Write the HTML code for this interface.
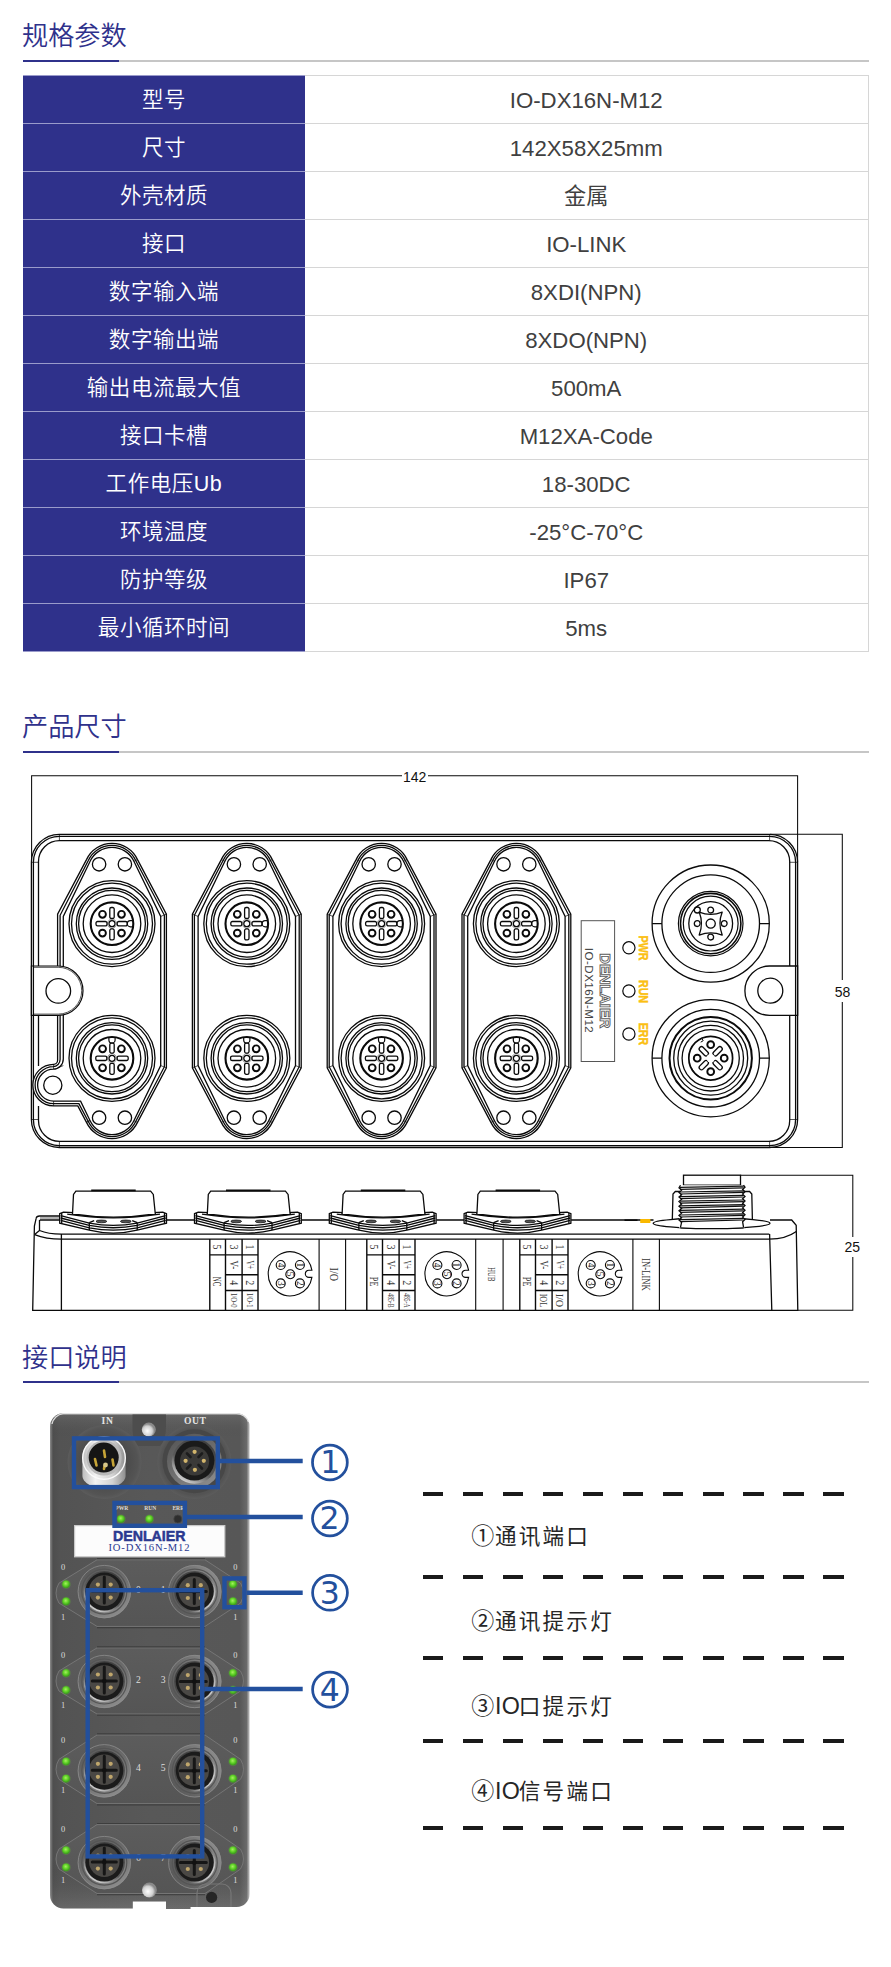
<!DOCTYPE html>
<html lang="zh-CN">
<head>
<meta charset="utf-8">
<title>IO-DX16N-M12</title>
<style>
html,body{margin:0;padding:0;background:#fff;}
body{width:891px;height:1967px;position:relative;overflow:hidden;font-family:"Liberation Sans","Noto Sans CJK SC",sans-serif;color:#333;}
.title{position:absolute;left:22px;margin:0;font-weight:350;font-size:26.2px;line-height:36px;color:#2f318b;white-space:nowrap;letter-spacing:0;}
.rule{position:absolute;left:23px;width:846px;height:2px;background:#c6c6c6;}
.rule i{position:absolute;left:0;top:0;width:96px;height:2px;background:#2f318b;display:block;}
table.spec{position:absolute;left:23px;top:75px;width:846px;border-collapse:collapse;table-layout:fixed;}
table.spec td{height:47px;padding:0;text-align:center;vertical-align:middle;font-size:21px;line-height:47px;border-top:1px solid #d6d6d6;border-bottom:1px solid #d6d6d6;}
table.spec td.k{width:281px;background:#2f318b;color:#fff;font-weight:350;border-color:#9a9bcb;font-size:21.5px;letter-spacing:.55px;padding:2px 0 0 .5px;height:45px;line-height:45px;}
table.spec td.v{color:#404040;border-right:1px solid #d6d6d6;font-size:22.2px;padding-top:3px;height:44px;line-height:44px;}
.dash{position:absolute;left:423.4px;width:420.4px;height:4px;background:repeating-linear-gradient(90deg,#1a1a1a 0,#1a1a1a 20.2px,transparent 20.2px,transparent 40.05px);}
.lg{position:absolute;left:471.3px;height:32px;line-height:32px;font-size:21.6px;color:#262626;white-space:nowrap;letter-spacing:2.2px;font-family:"Liberation Sans","Noto Sans CJK SC",sans-serif;}
.lg .cn{font-family:"Liberation Sans","Noto Sans CJK SC",sans-serif;letter-spacing:0;font-size:23px;margin-right:.7px;}
.lg .io{letter-spacing:.3px;font-size:23.3px;margin-right:-1.4px;}
</style>
</head>
<body>
<h2 class="title" style="top:18.3px">规格参数</h2>
<div class="rule" style="top:60px"><i></i></div>
<table class="spec">
<tr><td class="k">型号</td><td class="v">IO-DX16N-M12</td></tr>
<tr><td class="k">尺寸</td><td class="v">142X58X25mm</td></tr>
<tr><td class="k">外壳材质</td><td class="v">金属</td></tr>
<tr><td class="k">接口</td><td class="v">IO-LINK</td></tr>
<tr><td class="k">数字输入端</td><td class="v">8XDI(NPN)</td></tr>
<tr><td class="k">数字输出端</td><td class="v">8XDO(NPN)</td></tr>
<tr><td class="k">输出电流最大值</td><td class="v">500mA</td></tr>
<tr><td class="k">接口卡槽</td><td class="v">M12XA-Code</td></tr>
<tr><td class="k">工作电压Ub</td><td class="v">18-30DC</td></tr>
<tr><td class="k">环境温度</td><td class="v">-25°C-70°C</td></tr>
<tr><td class="k">防护等级</td><td class="v">IP67</td></tr>
<tr><td class="k">最小循环时间</td><td class="v">5ms</td></tr>
</table>
<h2 class="title" style="top:709.2px">产品尺寸</h2>
<div class="rule" style="top:751px"><i></i></div>
<svg style="position:absolute;left:0;top:760px" width="891" height="560" viewBox="0 760 891 560" fill="none" stroke="#0a0a0a" stroke-width="1.3" font-family="'Liberation Sans',sans-serif">
<defs>
<g id="fc"><circle r="43"/><circle r="40.5"/><circle r="35.7"/><circle r="33.4"/><circle r="28.8"/><circle r="21.3" stroke-width="2.1"/><circle cx="-9.5" cy="-9.4" r="3.4" stroke-width="1.9"/><circle cx="-9.5" cy="9.4" r="3.4" stroke-width="1.9"/><circle cx="9.5" cy="-9.4" r="3.4" stroke-width="1.9"/><circle cx="9.5" cy="9.4" r="3.4" stroke-width="1.9"/><circle r="4.6" stroke="#777" stroke-width="0.7"/><circle r="3"/><rect x="-2.2" y="-16.2" width="4.4" height="11" rx="1.6"/><rect x="-2.2" y="5.2" width="4.4" height="11" rx="1.6"/><rect x="-16" y="-2.2" width="11" height="4.4" rx="1.6"/><rect x="5.2" y="-2.2" width="10" height="4.4" rx="1.6"/><path d="M21.1 -3.1H18.4A3.1 3.1 0 0 0 18.4 3.1H21.1" stroke-width="1.2"/></g>
<g id="fl"><path d="M-25.5 -131.4A28.2 28.2 0 0 1 25.5 -131.4L54.4 -76.8V76.8L25.5 131.4A28.2 28.2 0 0 1 -25.5 131.4L-54.4 76.8V-76.8Z" fill="#fff"/><path d="M-23.7 -130.5A26.2 26.2 0 0 1 23.7 -130.5L52.4 -75.7V75.7L23.7 130.5A26.2 26.2 0 0 1 -23.7 130.5L-52.4 75.7V-75.7Z"/><path d="M-21.9 -129.7A24.2 24.2 0 0 1 21.9 -129.7L48.7 -74.6V74.6L21.9 129.7A24.2 24.2 0 0 1 -21.9 129.7L-48.7 74.6V-74.6Z"/><path d="M-25.5 131.4L-21.9 129.7M-54.4 76.8L-48.7 74.6" stroke-width="0.7"/><circle cx="-12.9" cy="-126.7" r="6.7"/><path d="M-25.5 -131.4L-21.9 -129.7M-54.4 -76.8L-48.7 -74.6" stroke-width="0.7"/><circle cx="-12.9" cy="126.7" r="6.7"/><path d="M25.5 131.4L21.9 129.7M54.4 76.8L48.7 74.6" stroke-width="0.7"/><circle cx="12.9" cy="-126.7" r="6.7"/><path d="M25.5 -131.4L21.9 -129.7M54.4 -76.8L48.7 -74.6" stroke-width="0.7"/><circle cx="12.9" cy="126.7" r="6.7"/><use href="#fc" y="-67.3"/><use href="#fc" y="67.3" transform="rotate(-90 0 67.3)"/></g>
<g id="sf"><path d="M-53.5 1213.6L-49.8 1212.2L-40 1212.6L-40.7 1214Q0 1220.4 42.1 1214L41 1212.6L49.6 1212.2L53.3 1213.6V1223.2L24 1230.1Q0 1236 -23.9 1230.1L-53.5 1223.2Z" fill="#fff"/><path d="M-40.7 1214L-39.7 1194.4L-37.3 1191.2H37.4L40.1 1194.4L42.1 1214" fill="#fff"/><path d="M-22 1190.4H22.5" stroke-width="1.6"/><path d="M-46 1214.2Q0 1221.6 46.8 1214.2" /><path d="M-52.5 1215.6L-23.9 1223.1Q0 1227.8 24 1223.1L52.5 1215.6"/><path d="M-52.5 1218L-23.9 1225.4Q0 1230.1 24 1225.4L52.5 1218"/><path d="M-52.5 1220.4L-23.9 1227.8Q0 1232.4 24 1227.8L52.5 1220.4"/><path d="M-23.9 1222.6V1230.1M24 1222.6V1230.1M-51.5 1213V1223.4M51.3 1213V1223.4"/><path d="M-23.9 1222.6L-19 1220.6M24 1222.6L19 1220.6" /><ellipse cx="-11.8" cy="1221.4" rx="5.4" ry="1.4" fill="#555" stroke-width="0.7"/><ellipse cx="12.6" cy="1221.4" rx="5.4" ry="1.4" fill="#555" stroke-width="0.7"/></g>
<g id="pd" font-family="'Liberation Serif',serif" font-size="9.5"><path d="M21.6 -4A22 22 0 1 0 21.6 3.2H18.6A3.4 3.4 0 0 1 18.6 -4Z" stroke-width="1.1"/><circle cx="-9.6" cy="-9.2" r="4.5" stroke-width="1.1"/><text x="-9.6" y="-9.2" transform="rotate(90 -9.6 -9.2)" text-anchor="middle" fill="#222" stroke="none" dy="3.2">4</text><circle cx="9.6" cy="-9.2" r="4.5" stroke-width="1.1"/><text x="9.6" y="-9.2" transform="rotate(90 9.6 -9.2)" text-anchor="middle" fill="#222" stroke="none" dy="3.2">1</text><circle cx="0" cy="0" r="4.5" stroke-width="1.1"/><text x="0" y="0" transform="rotate(90 0 0)" text-anchor="middle" fill="#222" stroke="none" dy="3.2">5</text><circle cx="-9.6" cy="9.2" r="4.5" stroke-width="1.1"/><text x="-9.6" y="9.2" transform="rotate(90 -9.6 9.2)" text-anchor="middle" fill="#222" stroke="none" dy="3.2">3</text><circle cx="9.6" cy="9.2" r="4.5" stroke-width="1.1"/><text x="9.6" y="9.2" transform="rotate(90 9.6 9.2)" text-anchor="middle" fill="#222" stroke="none" dy="3.2">2</text></g>
</defs>
<g stroke-width="1.05">
<path d="M31.6 862V775.7H402M428 775.7H797.6V862"/>
<path d="M770 834.3H842.3V980M842.3 1002V1147.5H770"/>
<path d="M740.5 1175.2H852.8V1237M852.8 1257V1310.3H798"/>
</g>
<g fill="#111" stroke="none" font-size="14" text-anchor="middle"><text x="414.6" y="781.6">142</text><text x="842.5" y="996.5">58</text><text x="852.3" y="1251.6">25</text></g>
<rect x="31.4" y="834.3" width="766.2" height="313.2" rx="28" fill="#fff"/>
<rect x="33.4" y="836.3" width="762.2" height="309.3" rx="26" />
<path d="M59.5 840.6H768.7A21 21 0 0 1 789.7 861.6V966M789.7 1015.4V1120.4A21 21 0 0 1 768.7 1141.4H59.5A21 21 0 0 1 38.5 1120.4V1106M38.5 1066V1015.4M38.5 966V861.6A21 21 0 0 1 59.5 840.6"/>
<path d="M59.4 834.3V840.6M31.4 862.3H38.5M769.6 834.3V840.6M789.7 862.3H797.6M59.4 1141.4V1147.5M31.4 1119.5H38.5M769.6 1141.4V1147.5M789.7 1119.5H797.6" stroke-width="0.7"/>
<use href="#fl" x="246.8" y="991"/>
<use href="#fl" x="381.6" y="991"/>
<use href="#fl" x="516.4" y="991"/>
<path d="M86.5 859.6A28.2 28.2 0 0 1 137.5 859.6L166.4 914.2V1067.8L137.5 1122.4A28.2 28.2 0 0 1 86.5 1122.4L77.8 1105.9H53.6A20.8 20.8 0 0 1 53.6 1064.3H53.6A4 4 0 0 0 57.6 1060.3V914.2Z" fill="#fff"/>
<path d="M88.3 860.5A26.2 26.2 0 0 1 135.7 860.5L164.4 915.3V1066.7L135.7 1121.5A26.2 26.2 0 0 1 88.3 1121.5L78.9 1103.6H53.6A18.5 18.5 0 0 1 53.6 1066.6H53.1A7 7 0 0 0 60.1 1059.6V915.3Z"/>
<path d="M90.1 861.3A24.2 24.2 0 0 1 133.9 861.3L160.7 916.4V1065.6L133.9 1120.7A24.2 24.2 0 0 1 90.1 1120.7L80.6 1101.1H53.6A16 16 0 0 1 53.6 1069.1H53.3A10 10 0 0 0 63.3 1059.1V916.4Z"/>
<path d="M86.5 1122.4L90.1 1120.7M57.6 1067.8L63.3 1065.6" stroke-width="0.7"/>
<circle cx="99.1" cy="864.3" r="6.7"/>
<circle cx="99.1" cy="1117.7" r="6.7"/>
<path d="M137.5 1122.4L133.9 1120.7M166.4 1067.8L160.7 1065.6" stroke-width="0.7"/>
<circle cx="124.9" cy="864.3" r="6.7"/>
<path d="M137.5 859.6L133.9 861.3M166.4 914.2L160.7 916.4" stroke-width="0.7"/>
<circle cx="124.9" cy="1117.7" r="6.7"/>
<path d="M53.6 1064.3V1069.1M53.6 1101.1V1105.9M86.4 1122.4L89.6 1120.2" stroke-width="0.7"/>
<circle cx="52.8" cy="1085.2" r="9.1"/>
<use href="#fc" x="112" y="923.7"/><use href="#fc" x="112" y="1058.3" transform="rotate(-90 112 1058.3)"/>
<path d="M31.4 966H58.3A24.7 24.7 0 0 1 58.3 1015.4H31.4Z" fill="#fff" stroke-width="1.2"/>
<path d="M34 967.3H58.3A23.4 23.4 0 0 1 58.3 1014.1H34" stroke-width="0.7"/>
<path d="M33.4 966V1015.4"/>
<circle cx="58.3" cy="990.9" r="12.3"/>
<path d="M797.6 966H769.6A24.7 24.7 0 0 0 769.6 1015.4H797.6Z" fill="#fff" stroke-width="1.3"/>
<path d="M795.6 966V1015.4"/>
<circle cx="770.3" cy="990.7" r="12.5"/>
<g transform="translate(710.7 923.6)">
<circle r="58.6"/><circle r="48.8"/><path d="M-58.6 0H-48.8M48.8 0H58.6"/>
<circle r="32.3" stroke-width="1.2"/><circle r="30.2" stroke-width="1.6"/><circle r="27.4" stroke-width="1.2"/><circle r="21.9"/>
<circle r="4.6"/>
<circle cx="0" cy="-13.5" r="2.9" transform="rotate(0)"/>
<circle cx="0" cy="-13.5" r="2.9" transform="rotate(90)"/>
<circle cx="0" cy="-13.5" r="2.9" transform="rotate(180)"/>
<circle cx="0" cy="-13.5" r="2.9" transform="rotate(270)"/>
<path d="M-11.5 -11.5Q0 -7 11.5 -11.5Q7 0 11.5 11.5Q0 7 -11.5 11.5Q-7 0 -11.5 -11.5Z" stroke-linejoin="round"/>
<circle cx="-13.4" cy="-13.6" r="3"/>
</g>
<g transform="translate(710.7 1058.2)">
<circle r="58.6"/><circle r="48.8"/><path d="M-58.6 0H-48.8M48.8 0H58.6"/>
<circle r="41.2" stroke-width="2"/><circle r="37"/><circle r="32.8"/><circle r="28.6"/><circle r="21.9" stroke-width="1.7"/>
<circle cx="0" cy="-13.5" r="3.4" stroke-width="1.9" transform="rotate(0)"/>
<rect x="-2.3" y="-15.3" width="4.6" height="11" rx="2.2" transform="rotate(45)"/>
<circle cx="0" cy="-13.5" r="3.4" stroke-width="1.9" transform="rotate(90)"/>
<rect x="-2.3" y="-15.3" width="4.6" height="11" rx="2.2" transform="rotate(135)"/>
<circle cx="0" cy="-13.5" r="3.4" stroke-width="1.9" transform="rotate(180)"/>
<rect x="-2.3" y="-15.3" width="4.6" height="11" rx="2.2" transform="rotate(225)"/>
<circle cx="0" cy="-13.5" r="3.4" stroke-width="1.9" transform="rotate(270)"/>
<rect x="-2.3" y="-15.3" width="4.6" height="11" rx="2.2" transform="rotate(315)"/>
<circle r="4.2" fill="#fff" stroke="none"/>
<path d="M-11.5 -18.6L-9 -20L-7.5 -17.5L-10 -16M-19.5 9.5L-15 16.5L-10.5 19" stroke-width="1"/>
</g>
<rect x="581.2" y="920.7" width="33.4" height="140.8" stroke="#555" stroke-width="1"/>
<text transform="translate(599.6 990.8) rotate(90)" text-anchor="middle" font-size="15" font-weight="700" fill="#fff" stroke="#5a5a5a" stroke-width="0.9" textLength="75" lengthAdjust="spacingAndGlyphs">DENLAIER</text>
<text transform="translate(585.4 990.3) rotate(90)" text-anchor="middle" font-size="11.6" fill="#444" stroke="none" textLength="85" lengthAdjust="spacing">IO-DX16N-M12</text>
<circle cx="628.9" cy="947.8" r="6.1" stroke-width="1.2"/>
<text transform="translate(638.9 948) rotate(90)" text-anchor="middle" font-size="13" font-weight="700" fill="#fbbf12" stroke="#fbbf12" stroke-width="0.5" textLength="25" lengthAdjust="spacingAndGlyphs">PWR</text>
<circle cx="628.9" cy="991" r="6.1" stroke-width="1.2"/>
<text transform="translate(638.9 991.5) rotate(90)" text-anchor="middle" font-size="13" font-weight="700" fill="#fbbf12" stroke="#fbbf12" stroke-width="0.5" textLength="23" lengthAdjust="spacingAndGlyphs">RUN</text>
<circle cx="628.9" cy="1034" r="6.1" stroke-width="1.2"/>
<text transform="translate(638.9 1034) rotate(90)" text-anchor="middle" font-size="13" font-weight="700" fill="#fbbf12" stroke="#fbbf12" stroke-width="0.5" textLength="22.5" lengthAdjust="spacingAndGlyphs">ERR</text>
<path d="M36.2 1218.2Q36.6 1216 39.5 1216H60V1220H39.8M36.2 1218.2L34.4 1226L32.7 1310.3H797.8L796.2 1225.2L791.7 1220H770" />
<path d="M60 1218H40" stroke="#888"/>
<path d="M39.5 1220V1230.5L34.6 1234.6M39.5 1230.5Q48 1234.1 61.4 1234.1H769.3M34.6 1234.6Q46 1239.2 61.4 1239.2H769.3Q786 1239 796.3 1231.5M61.4 1234.1V1310.3M769.6 1234.1L771.8 1310.3"/>
<path d="M166.7 1220H194.5M301.5 1220H329.3M436.3 1220H464.1M571.1 1220H653.5"/>
<use href="#sf" x="113.2"/>
<use href="#sf" x="248"/>
<use href="#sf" x="382.8"/>
<use href="#sf" x="517.6"/>
<path d="M672.3 1220L673 1194L675.3 1191.5H749.6L751.8 1194L752.4 1220Z" fill="#fff"/>
<ellipse cx="711.6" cy="1223.2" rx="58.4" ry="5.2" fill="#fff"/>
<rect x="683.5" y="1175.2" width="57" height="10" fill="#fff"/>
<path d="M680.5 1185.2H743.5L744.3 1228H679.3Z" fill="#fff" stroke="none"/>
<path d="M680 1187.4L743.8 1186.2M680 1189.4L743.8 1187.8M680 1192L743.8 1190.8M680 1194L743.8 1192.4M680 1196.6L743.8 1195.4M680 1198.6L743.8 1197M680 1201.2L743.8 1200M680 1203.2L743.8 1201.6M680 1205.8L743.8 1204.6M680 1207.8L743.8 1206.2M680 1210.4L743.8 1209.2M680 1212.4L743.8 1210.8M680 1215L743.8 1213.8M680 1217L743.8 1215.4M680 1219.6L743.8 1218.4M680 1221.6L743.8 1220" stroke-width="1.25" stroke="#111"/>
<path d="M680.5 1185.2L679 1187.8L681.6 1190.1L679 1192.4L681.6 1194.7L679 1197L681.6 1199.3L679 1201.6L681.6 1203.9L679 1206.2L681.6 1208.5L679 1210.8L681.6 1213.1L679 1215.4L681.6 1217.7L679 1220L681.6 1222.3L680.4 1227.6M743.5 1185.2L745 1187.2L742.6 1189.5L745 1191.8L742.6 1194.1L745 1196.4L742.6 1198.7L745 1201L742.6 1203.3L745 1205.6L742.6 1207.9L745 1210.2L742.6 1212.5L745 1214.8L742.6 1217.1L745 1219.4L742.6 1221.7L743.6 1227.6"/>
<path d="M680.4 1227.8Q711 1229.6 743.6 1227.8" />
<rect x="640.2" y="1219" width="10.2" height="4" fill="#f9b800" stroke="none"/>
<path d="M624.5 1220.2H637.5" stroke-width="1.6"/>
<path d="M209.8 1238.9V1310.3M225.5 1238.9V1310.3M242.1 1238.9V1310.3M258 1238.9V1310.3M209.8 1254.9H258M225.5 1274.8H258M225.5 1290.5H258" stroke-width="1.4"/>
<g font-family="'Liberation Serif',serif" fill="#3a3a3a" stroke="none" text-anchor="middle">
<text transform="translate(213.4 1246.9) rotate(90)" font-size="13" textLength="5" lengthAdjust="spacingAndGlyphs">5</text>
<text transform="translate(213.4 1281.6) rotate(90)" font-size="13" textLength="9.6" lengthAdjust="spacingAndGlyphs">NC</text>
<text transform="translate(229.5 1246.9) rotate(90)" font-size="13" textLength="5" lengthAdjust="spacingAndGlyphs">3</text>
<text transform="translate(245.8 1246.9) rotate(90)" font-size="13" textLength="5" lengthAdjust="spacingAndGlyphs">1</text>
<text transform="translate(229.5 1264.8) rotate(90)" font-size="13" textLength="8.8" lengthAdjust="spacingAndGlyphs">V-</text>
<text transform="translate(245.8 1264.8) rotate(90)" font-size="13" textLength="8.8" lengthAdjust="spacingAndGlyphs">V+</text>
<text transform="translate(229.5 1282.7) rotate(90)" font-size="13" textLength="5" lengthAdjust="spacingAndGlyphs">4</text>
<text transform="translate(245.8 1282.7) rotate(90)" font-size="13" textLength="5" lengthAdjust="spacingAndGlyphs">2</text>
<text transform="translate(231.1 1300.4) rotate(90)" font-size="8.2" textLength="14.2" lengthAdjust="spacingAndGlyphs">I/O-0</text>
<text transform="translate(247.3 1300.4) rotate(90)" font-size="8.2" textLength="14.2" lengthAdjust="spacingAndGlyphs">I/O-1</text>
</g>
<path d="M366.8 1238.9V1310.3M382.5 1238.9V1310.3M399.1 1238.9V1310.3M415 1238.9V1310.3M366.8 1254.9H415M382.5 1274.8H415M382.5 1290.5H415" stroke-width="1.4"/>
<g font-family="'Liberation Serif',serif" fill="#3a3a3a" stroke="none" text-anchor="middle">
<text transform="translate(370.4 1246.9) rotate(90)" font-size="13" textLength="5" lengthAdjust="spacingAndGlyphs">5</text>
<text transform="translate(370.4 1281.6) rotate(90)" font-size="13" textLength="9.6" lengthAdjust="spacingAndGlyphs">PE</text>
<text transform="translate(386.5 1246.9) rotate(90)" font-size="13" textLength="5" lengthAdjust="spacingAndGlyphs">3</text>
<text transform="translate(402.8 1246.9) rotate(90)" font-size="13" textLength="5" lengthAdjust="spacingAndGlyphs">1</text>
<text transform="translate(386.5 1264.8) rotate(90)" font-size="13" textLength="8.8" lengthAdjust="spacingAndGlyphs">V-</text>
<text transform="translate(402.8 1264.8) rotate(90)" font-size="13" textLength="8.8" lengthAdjust="spacingAndGlyphs">V+</text>
<text transform="translate(386.5 1282.7) rotate(90)" font-size="13" textLength="5" lengthAdjust="spacingAndGlyphs">4</text>
<text transform="translate(402.8 1282.7) rotate(90)" font-size="13" textLength="5" lengthAdjust="spacingAndGlyphs">2</text>
<text transform="translate(388.1 1300.4) rotate(90)" font-size="8.2" textLength="14.2" lengthAdjust="spacingAndGlyphs">485-B</text>
<text transform="translate(404.3 1300.4) rotate(90)" font-size="8.2" textLength="14.2" lengthAdjust="spacingAndGlyphs">485-A</text>
</g>
<path d="M519.8 1238.9V1310.3M535.5 1238.9V1310.3M552.1 1238.9V1310.3M568 1238.9V1310.3M519.8 1254.9H568M535.5 1274.8H568M535.5 1290.5H568" stroke-width="1.4"/>
<g font-family="'Liberation Serif',serif" fill="#3a3a3a" stroke="none" text-anchor="middle">
<text transform="translate(523.4 1246.9) rotate(90)" font-size="13" textLength="5" lengthAdjust="spacingAndGlyphs">5</text>
<text transform="translate(523.4 1281.6) rotate(90)" font-size="13" textLength="9.6" lengthAdjust="spacingAndGlyphs">PE</text>
<text transform="translate(539.5 1246.9) rotate(90)" font-size="13" textLength="5" lengthAdjust="spacingAndGlyphs">3</text>
<text transform="translate(555.8 1246.9) rotate(90)" font-size="13" textLength="5" lengthAdjust="spacingAndGlyphs">1</text>
<text transform="translate(539.5 1264.8) rotate(90)" font-size="13" textLength="8.8" lengthAdjust="spacingAndGlyphs">V-</text>
<text transform="translate(555.8 1264.8) rotate(90)" font-size="13" textLength="8.8" lengthAdjust="spacingAndGlyphs">V+</text>
<text transform="translate(539.5 1282.7) rotate(90)" font-size="13" textLength="5" lengthAdjust="spacingAndGlyphs">4</text>
<text transform="translate(555.8 1282.7) rotate(90)" font-size="13" textLength="5" lengthAdjust="spacingAndGlyphs">2</text>
<text transform="translate(540.2 1300.4) rotate(90)" font-size="11" textLength="13.5" lengthAdjust="spacingAndGlyphs">IOL</text>
<text transform="translate(556.4 1300.4) rotate(90)" font-size="11" textLength="13.5" lengthAdjust="spacingAndGlyphs">I/O</text>
</g>
<use href="#pd" x="290.3" y="1274.2"/>
<use href="#pd" x="447" y="1274.2"/>
<use href="#pd" x="600.3" y="1274.2"/>
<path d="M319.1 1238.9V1310.3M345.6 1238.9V1310.3M475.7 1238.9V1310.3M503.1 1238.9V1310.3M632.9 1238.9V1310.3M659.4 1238.9V1310.3" stroke-width="1.1"/>
<g font-family="'Liberation Serif',serif" fill="#333" stroke="none" text-anchor="middle" font-size="11">
<text transform="translate(330.4 1274.3) rotate(90)" font-size="13" textLength="13.5" lengthAdjust="spacingAndGlyphs">I/O</text>
<text transform="translate(488.2 1274.3) rotate(90)" font-size="11" textLength="14" lengthAdjust="spacingAndGlyphs">HUB</text>
<text transform="translate(641.8 1274.5) rotate(90)" font-size="12" textLength="32.5" lengthAdjust="spacingAndGlyphs">IN-LINK</text>
</g>
</svg>
<h2 class="title" style="top:1339.6px">接口说明</h2>
<div class="rule" style="top:1381px"><i></i></div>
<svg style="position:absolute;left:0;top:1400px" width="400" height="530" viewBox="0 1400 400 530" font-family="'Liberation Serif',serif">
<defs>
<linearGradient id="bd" x1="0" x2="1" y1="0" y2="0"><stop offset="0" stop-color="#8c8c8c"/><stop offset=".015" stop-color="#4e4e4e"/><stop offset=".05" stop-color="#535353"/><stop offset=".5" stop-color="#585858"/><stop offset=".95" stop-color="#575757"/><stop offset=".985" stop-color="#6a6a6a"/><stop offset="1" stop-color="#c8c8c8"/></linearGradient>
<linearGradient id="bt" x1="0" x2="0" y1="0" y2="1"><stop offset="0" stop-color="#fff" stop-opacity=".55"/><stop offset=".004" stop-color="#fff" stop-opacity=".08"/><stop offset=".05" stop-color="#000" stop-opacity="0"/><stop offset=".9" stop-color="#000" stop-opacity="0"/><stop offset="1" stop-color="#fff" stop-opacity=".12"/></linearGradient>
<radialGradient id="led" cx=".45" cy=".4" r=".6"><stop offset="0" stop-color="#a5f060"/><stop offset=".5" stop-color="#62d428"/><stop offset="1" stop-color="#37991a"/></radialGradient>
<radialGradient id="ledg"><stop offset=".5" stop-color="#5fd025" stop-opacity=".55"/><stop offset="1" stop-color="#5fd025" stop-opacity="0"/></radialGradient>
<linearGradient id="ring" x1="0.2" y1="0" x2="0.8" y2="1"><stop offset="0" stop-color="#565656"/><stop offset=".5" stop-color="#6e6e6e"/><stop offset="1" stop-color="#8f8f8f"/></linearGradient>
<linearGradient id="ring2" x1="0.8" y1="0" x2="0.2" y2="1"><stop offset="0" stop-color="#3c3c3c"/><stop offset=".6" stop-color="#5a5a5a"/><stop offset="1" stop-color="#e8e8e8"/></linearGradient>
<linearGradient id="silv" x1="0" y1="0" x2="1" y2="0"><stop offset="0" stop-color="#bdbdbd"/><stop offset=".3" stop-color="#f2f2f2"/><stop offset=".7" stop-color="#d2d2d2"/><stop offset="1" stop-color="#8e8e8e"/></linearGradient>
<radialGradient id="rec"><stop offset=".6" stop-color="#4b4b4b"/><stop offset=".9" stop-color="#545454"/><stop offset="1" stop-color="#5c5c5c"/></radialGradient>
<radialGradient id="hole" cx=".4" cy=".6"><stop offset="0" stop-color="#fff"/><stop offset=".7" stop-color="#d0d0d0"/><stop offset="1" stop-color="#8a8a8a"/></radialGradient>
<linearGradient id="flg" x1="0" y1="0" x2="0" y2="1"><stop offset="0" stop-color="#5c5c5c"/><stop offset="1" stop-color="#555"/></linearGradient>
<g id="io">
<circle r="26.6" fill="url(#ring)"/><circle r="26.2" fill="none" stroke="#8d8d8d" stroke-width=".8"/><circle r="22.5" fill="none" stroke="#555" stroke-width="1.2"/>
<circle r="20.6" fill="url(#ring2)"/><circle r="19" fill="#1b1b1b"/><circle cy="-1" r="15.3" fill="#4a4845"/>
<path d="M0 -14.5V11.5M-12 -.5H12" stroke="#161616" stroke-width="3" stroke-linecap="round"/>
<circle cy="-.5" r="2.3" fill="#111"/>
<g fill="#bfa66c"><circle cx="-6.4" cy="-7" r="2.1"/><circle cx="6.4" cy="-7" r="2.1"/><circle cx="-6.4" cy="6" r="2.1"/><circle cx="6.4" cy="6" r="2.1"/></g>
</g>
<g id="ld"><circle r="5.2" fill="url(#ledg)"/><circle r="3.8" fill="url(#led)"/></g>
</defs>
<path d="M63 1413.2H236A13 13 0 0 1 249.6 1426.5V1894A13 13 0 0 1 236.5 1907H190.5V1909H166V1901.5H132.8V1908.6H63.5A13.5 13.5 0 0 1 50 1895V1426.5A13.3 13.3 0 0 1 63 1413.2Z" fill="url(#bd)"/>
<path d="M63 1413.2H236A13 13 0 0 1 249.6 1426.5V1894A13 13 0 0 1 236.5 1907H190.5V1909H166V1901.5H132.8V1908.6H63.5A13.5 13.5 0 0 1 50 1895V1426.5A13.3 13.3 0 0 1 63 1413.2Z" fill="url(#bt)"/>
<path d="M52 1424A13 13 0 0 1 63 1413.6H236A13 13 0 0 1 248.6 1422" fill="none" stroke="#e9e9e9" stroke-width="1.3" opacity=".9"/>
<path d="M132.5 1414.5H166V1426Q166 1440 160 1446H138Q132.5 1440 132.5 1428Z" fill="#4d4d4d"/>
<circle cx="148.8" cy="1429.6" r="7" fill="url(#hole)"/>
<circle cx="104.5" cy="1462" r="37" fill="url(#rec)"/><circle cx="194.4" cy="1462" r="37" fill="url(#rec)"/>
<g fill="#e6e6e6" font-size="9.6" font-weight="700" text-anchor="middle" letter-spacing=".6"><text x="107.5" y="1424.3">IN</text><text x="195.3" y="1424.3">OUT</text></g>
<path d="M82.4 1458A21.6 21.6 0 0 1 125.6 1458V1476A21.6 12 0 0 1 82.4 1476Z" fill="url(#silv)"/>
<circle cx="104" cy="1458" r="21.3" fill="none" stroke="#fafafa" stroke-width="1.4"/>
<circle cx="104" cy="1458" r="17.6" fill="#b9b9b9"/><circle cx="103.7" cy="1457.6" r="15" fill="#151515"/>
<g stroke="#c6a437" stroke-width="2.6" stroke-linecap="round"><path d="M104 1450.5L105 1457"/><path d="M95 1459L96.5 1465.5"/><path d="M112.5 1459.5L113.5 1465.5"/><path d="M104.5 1466L104 1469"/></g><circle cx="105.5" cy="1465" r="2.4" fill="#d8c88a"/>
<circle cx="194.4" cy="1461.2" r="32" fill="#474747"/><circle cx="194.4" cy="1461.2" r="27.4" fill="url(#ring)"/><circle cx="194.4" cy="1461.2" r="22.6" fill="url(#ring2)"/>
<circle cx="194.4" cy="1460.6" r="20" fill="#1a1a1a"/><circle cx="194.6" cy="1461" r="14.6" fill="#3b3a38"/>
<g stroke="#1c1c1c" stroke-width="2.6" stroke-linecap="round"><path d="M187 1453.5L190.5 1457M202 1453.5L198.500 1457M187 1468.5L190.500 1465M202 1468.5L198.500 1465"/></g>
<g fill="#d2b56c"><circle cx="194.6" cy="1451.8" r="2.1"/><circle cx="185.6" cy="1460.8" r="2.1"/><circle cx="203.800" cy="1460.8" r="2.1"/><circle cx="194.900" cy="1469.8" r="2.1"/></g>
<g fill="#d9d9d9" font-size="5.6" font-weight="700" text-anchor="middle"><text x="121.8" y="1509.8">PWR</text><text x="150.300" y="1509.8">RUN</text><text x="178.300" y="1509.8">ERR</text></g>
<use href="#ld" x="121" y="1519"/><use href="#ld" x="149.4" y="1519"/><circle cx="177.800" cy="1519" r="4" fill="#2e2e2e" stroke="#444" stroke-width=".8"/>
<rect x="74.6" y="1525.6" width="150.2" height="31.2" fill="#fcfcfc" stroke="#c9c9c9" stroke-width="1.2"/>
<text x="149.2" y="1540.8" text-anchor="middle" font-family="'Liberation Sans',sans-serif" font-weight="700" font-size="14" fill="#2b3990" stroke="#2b3990" stroke-width=".5" textLength="72.5" lengthAdjust="spacingAndGlyphs">DENLAIER</text>
<text x="149" y="1551.2" text-anchor="middle" font-size="10.6" fill="#2b3990" textLength="81" lengthAdjust="spacing">IO-DX16N-M12</text>
<path d="M97 1559.8H205L240.500 1583.1Q246.500 1593.1 240.500 1603.1L205 1626.4H97L59 1603.1Q53 1593.1 59 1583.1Z" fill="url(#flg)" stroke="#787878" stroke-width=".9" stroke-linejoin="round"/>
<path d="M97 1627.6H205M97 1558.7H205" stroke="#2c2c2c" stroke-width="1.2" opacity=".55"/>
<use href="#io" x="104.3" y="1591.6"/><use href="#io" x="194.8" y="1591.6" transform="rotate(-90 194.8 1591.6)"/>
<use href="#ld" x="66.1" y="1584.3"/><use href="#ld" x="66.1" y="1601.4"/>
<use href="#ld" x="233" y="1584.3"/><use href="#ld" x="233" y="1601.4"/>
<g fill="#dcdcdc" font-size="8.4" text-anchor="middle"><text x="63" y="1570.1">0</text><text x="63" y="1620.4">1</text><text x="235.3" y="1570.1">0</text><text x="235.3" y="1620.4">1</text></g>
<g fill="#dedede" font-size="9.6" text-anchor="middle"><text x="138.4" y="1593.4">0</text><text x="163.2" y="1593.4">1</text></g>
<path d="M97 1647.9H205L240.500 1671Q246.500 1681 240.500 1691L205 1714H97L59 1691Q53 1681 59 1671Z" fill="url(#flg)" stroke="#787878" stroke-width=".9" stroke-linejoin="round"/>
<path d="M97 1715.2H205M97 1646.8H205" stroke="#2c2c2c" stroke-width="1.2" opacity=".55"/>
<use href="#io" x="104.3" y="1681.5"/><use href="#io" x="194.8" y="1681.5" transform="rotate(-90 194.8 1681.5)"/>
<use href="#ld" x="66.1" y="1673"/><use href="#ld" x="66.1" y="1690.1"/>
<use href="#ld" x="233" y="1673"/><use href="#ld" x="233" y="1690.1"/>
<g fill="#dcdcdc" font-size="8.4" text-anchor="middle"><text x="63" y="1657.6">0</text><text x="63" y="1707.5">1</text><text x="235.3" y="1657.6">0</text><text x="235.3" y="1707.5">1</text></g>
<g fill="#dedede" font-size="9.6" text-anchor="middle"><text x="138.4" y="1682.8">2</text><text x="163.2" y="1682.8">3</text></g>
<path d="M97 1735H205L240.500 1759.3Q246.500 1769.3 240.500 1779.3L205 1803.6H97L59 1779.3Q53 1769.3 59 1759.3Z" fill="url(#flg)" stroke="#787878" stroke-width=".9" stroke-linejoin="round"/>
<path d="M97 1804.8H205M97 1733.9H205" stroke="#2c2c2c" stroke-width="1.2" opacity=".55"/>
<use href="#io" x="104.3" y="1770.8"/><use href="#io" x="194.8" y="1770.8" transform="rotate(-90 194.8 1770.8)"/>
<use href="#ld" x="66.1" y="1761.5"/><use href="#ld" x="66.1" y="1778.6"/>
<use href="#ld" x="233" y="1761.5"/><use href="#ld" x="233" y="1778.6"/>
<g fill="#dcdcdc" font-size="8.4" text-anchor="middle"><text x="63" y="1743.3">0</text><text x="63" y="1793.4">1</text><text x="235.3" y="1743.3">0</text><text x="235.3" y="1793.4">1</text></g>
<g fill="#dedede" font-size="9.6" text-anchor="middle"><text x="138.4" y="1770.5">4</text><text x="163.2" y="1770.5">5</text></g>
<path d="M97 1824.6H205L240.500 1849Q246.500 1859 240.500 1869L205 1893.5H97L59 1869Q53 1859 59 1849Z" fill="url(#flg)" stroke="#787878" stroke-width=".9" stroke-linejoin="round"/>
<path d="M97 1894.7H205M97 1823.5H205" stroke="#2c2c2c" stroke-width="1.2" opacity=".55"/>
<use href="#io" x="104.3" y="1862.6"/><use href="#io" x="194.8" y="1862.6" transform="rotate(-90 194.8 1862.6)"/>
<use href="#ld" x="66.1" y="1850.2"/><use href="#ld" x="66.1" y="1867.3"/>
<use href="#ld" x="233" y="1850.2"/><use href="#ld" x="233" y="1867.3"/>
<g fill="#dcdcdc" font-size="8.4" text-anchor="middle"><text x="63" y="1832.3">0</text><text x="63" y="1882.9">1</text><text x="235.3" y="1832.3">0</text><text x="235.3" y="1882.9">1</text></g>
<g fill="#dedede" font-size="9.6" text-anchor="middle"><text x="138.4" y="1861.4">6</text><text x="163.2" y="1861.4">7</text></g>
<circle cx="149.4" cy="1890" r="7.4" fill="url(#hole)"/>
<path d="M197 1907V1893A9 9 0 0 1 206 1884H222A9 9 0 0 1 231 1893V1907" fill="none" stroke="#777" stroke-width="1.2"/>
<circle cx="211.6" cy="1897.4" r="5.6" fill="#262626"/>
<g fill="none" stroke="#23509d" stroke-width="4.4">
<rect x="74" y="1438.4" width="143.8" height="48.7"/>
<rect x="114.5" y="1502.9" width="70.4" height="22.9"/>
<rect x="224.5" y="1578.4" width="19.9" height="28.8"/>
<rect x="87.700" y="1590.2" width="114.500" height="266.2"/>
<path d="M220 1461H302.700M187 1517.100H302.700M246.500 1592.800H302.700M204.400 1689H302.700" stroke-width="4.5"/>
</g>
<g fill="none" stroke="#23509d" stroke-width="2.75"><circle cx="329.9" cy="1462.4" r="17.4"/><circle cx="329.9" cy="1518.5" r="17.4"/><circle cx="330" cy="1592.8" r="17.4"/><circle cx="330" cy="1689.6" r="17.4"/></g>
<g fill="#23509d" font-family="'DejaVu Sans','Liberation Sans',sans-serif" font-size="31.5" text-anchor="middle"><text x="330.3" y="1473.3">1</text><text x="329.6" y="1529.4">2</text><text x="329.7" y="1603.7">3</text><text x="329.7" y="1700.5">4</text></g>
</svg>
<div class="dash" style="top:1492px"></div>
<div class="dash" style="top:1575px"></div>
<div class="dash" style="top:1656px"></div>
<div class="dash" style="top:1739px"></div>
<div class="dash" style="top:1826px"></div>
<div class="lg" style="top:1519.9px"><span class="cn">①</span>通讯端口</div>
<div class="lg" style="top:1604.7px"><span class="cn">②</span>通讯提示灯</div>
<div class="lg" style="top:1689.6px"><span class="cn">③</span><span class="io">IO</span>口提示灯</div>
<div class="lg" style="top:1774.8px"><span class="cn">④</span><span class="io">IO</span>信号端口</div>
</body>
</html>
